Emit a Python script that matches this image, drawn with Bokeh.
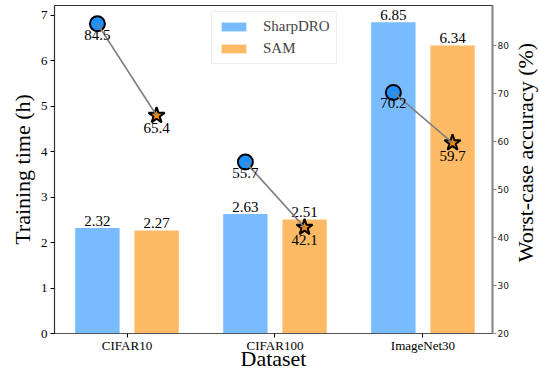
import math
from bokeh.plotting import figure
from bokeh.layouts import row
from bokeh.models import Range1d, LinearAxis, FixedTicker, Legend, LegendItem
from bokeh.core.properties import value
from bokeh.embed import file_html
from bokeh.resources import INLINE

datasets = ["CIFAR10", "CIFAR100", "ImageNet30"]
time_sharpdro = [2.32, 2.63, 6.85]
time_sam = [2.27, 2.51, 6.34]
acc_sharpdro = [84.5, 55.7, 70.2]
acc_sam = [65.4, 42.1, 59.7]
left_ticks = [0, 1, 2, 3, 4, 5, 6, 7]
right_ticks = [20, 30, 40, 50, 60, 70, 80]
right_title = ["Worst-case accuracy (%)"]

SERIF = "Liberation Serif"
BLUE_BAR = "#78bcff"
ORANGE_BAR = "#ffba66"
BLUE = "#1e90ff"
ORANGE = "#ff8c00"

idx = list(range(len(datasets)))
off = 0.2
bw = 0.3
x_a = [i - off for i in idx]
x_b = [i + off for i in idx]

p = figure(width=512, height=377, output_backend="svg", toolbar_location=None,
           x_range=Range1d(-0.49, 2.47), y_range=Range1d(0, 7.22),
           min_border_left=54, min_border_right=20, min_border_top=5,
           min_border_bottom=44)
p.extra_y_ranges = {"acc": Range1d(20, 88.3)}
p.xgrid.visible = False
p.ygrid.visible = False
p.outline_line_color = "#333333"
p.outline_line_width = 1.2

r1 = p.vbar(x=x_a, top=time_sharpdro, width=bw, bottom=0, fill_color=BLUE_BAR, line_color=None)
r2 = p.vbar(x=x_b, top=time_sam, width=bw, bottom=0, fill_color=ORANGE_BAR, line_color=None)

p.text(x=x_a, y=time_sharpdro, text=[f"{v:.2f}" for v in time_sharpdro],
       text_font=value(SERIF), text_font_size="15px", text_align="center",
       text_baseline="bottom", y_offset=-2, text_color="black")
p.text(x=x_b, y=time_sam, text=[f"{v:.2f}" for v in time_sam],
       text_font=value(SERIF), text_font_size="15px", text_align="center",
       text_baseline="bottom", y_offset=-2, text_color="black")

p.scatter(x=x_a, y=acc_sharpdro, y_range_name="acc", marker="circle", size=15,
          fill_color=BLUE, line_color="black", line_width=2)
p.scatter(x=x_b, y=acc_sam, y_range_name="acc", marker="star", size=17,
          fill_color=ORANGE, line_color="black", line_width=2)
p.segment(x0=x_a, y0=acc_sharpdro, x1=x_b, y1=acc_sam, y_range_name="acc",
          line_color="#808080", line_width=1.6)

p.text(x=x_a, y=acc_sharpdro, y_range_name="acc", text=[f"{v:.1f}" for v in acc_sharpdro],
       text_font=value(SERIF), text_font_size="15px", text_align="center",
       text_baseline="top", y_offset=6, text_color="black")
p.text(x=x_b, y=acc_sam, y_range_name="acc", text=[f"{v:.1f}" for v in acc_sam],
       text_font=value(SERIF), text_font_size="15px", text_align="center",
       text_baseline="top", y_offset=8, text_color="black")

# bottom axis
xa = p.xaxis[0]
xa.ticker = FixedTicker(ticks=idx)
xa.major_label_overrides = {i: d for i, d in zip(idx, datasets)}
xa.axis_label = "Dataset"
xa.axis_label_text_font = SERIF
xa.axis_label_text_font_size = "22px"
xa.axis_label_text_font_style = "normal"
xa.axis_label_text_color = "black"
xa.axis_label_standoff = -10
xa.major_label_text_font = SERIF
xa.major_label_text_font_size = "13px"
xa.major_label_text_color = "black"
xa.major_label_standoff = 0
xa.major_tick_out = 4
xa.major_tick_in = 0
xa.minor_tick_line_color = None
xa.axis_line_color = "#555555"

# left axis
ya = p.yaxis[0]
ya.ticker = FixedTicker(ticks=left_ticks)
ya.axis_label = "Training time (h)"
ya.axis_label_text_font = SERIF
ya.axis_label_text_font_size = "22px"
ya.axis_label_text_font_style = "normal"
ya.axis_label_text_color = "black"
ya.axis_label_standoff = 3
ya.major_label_text_font = SERIF
ya.major_label_text_font_size = "13px"
ya.major_label_text_color = "black"
ya.major_label_standoff = 3
ya.major_tick_out = 4
ya.major_tick_in = 0
ya.minor_tick_line_color = None
ya.axis_line_color = "#333333"

# right axis (ticks only; its title is drawn in the narrow strip figure)
ra = LinearAxis(y_range_name="acc", ticker=FixedTicker(ticks=right_ticks))
ra.major_label_text_font = "DejaVu Sans"
ra.major_label_text_font_size = "9px"
ra.major_label_text_color = "#222222"
ra.major_label_standoff = 1
ra.major_tick_out = 4
ra.major_tick_in = 0
ra.minor_tick_line_color = None
ra.axis_line_color = "#888888"
ra.axis_line_width = 2
ra.major_tick_line_color = "#888888"
p.add_layout(ra, "right")

legend = Legend(items=[LegendItem(label="SharpDRO", renderers=[r1]),
                       LegendItem(label="SAM", renderers=[r2])],
                location=(157, 269))
legend.label_text_font = SERIF
legend.label_text_font_size = "15px"
legend.glyph_width = 31
legend.glyph_height = 11
legend.label_standoff = 14
legend.label_height = 17
legend.spacing = 5
legend.padding = 6
legend.margin = 0
legend.border_line_color = "#dddddd"
legend.border_line_width = 1
legend.background_fill_alpha = 0.8
p.add_layout(legend, "center")

# narrow strip holding the right-hand axis title, reading bottom to top
q = figure(width=27, height=377, output_backend="svg", toolbar_location=None,
           x_range=Range1d(0, 27), y_range=Range1d(0, 377),
           min_border=0, min_border_left=0, min_border_right=0,
           min_border_top=0, min_border_bottom=0)
q.axis.visible = False
q.grid.visible = False
q.outline_line_color = None
q.text(x=[13], y=[208], text=right_title, angle=math.pi / 2,
       text_font=value(SERIF), text_font_size="22px", text_align="center",
       text_baseline="middle", text_color="black")

layout = row(p, q, spacing=0)
open("out.html", "w").write(file_html(layout, INLINE))
